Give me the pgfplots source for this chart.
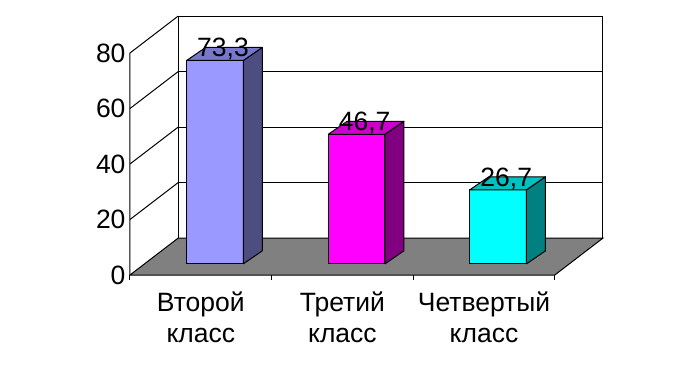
\documentclass[border=0pt]{standalone}
\usepackage{pgfplots}
\pgfplotsset{compat=1.18}
\usepackage{pgfplotstable}
\usepackage{fontspec}
\setmainfont{Liberation Sans}

\definecolor{fA}{HTML}{9999FF}\definecolor{sA}{HTML}{4D4D80}\definecolor{tA}{HTML}{7777CC}
\definecolor{fB}{HTML}{FF00FF}\definecolor{sB}{HTML}{800080}\definecolor{tB}{HTML}{CC00CC}
\definecolor{fC}{HTML}{00FFFF}\definecolor{sC}{HTML}{008080}\definecolor{tC}{HTML}{00C0C0}
\definecolor{floorc}{HTML}{808080}

\pgfplotstableread{
x val lab
0 73.3 73,3
1 46.7 46,7
2 26.7 26,7
}\data

\pgfplotstableread{
a b
0 0
1 0
1 1
0 1
0 0
}\unitsq

\pgfplotstablegetelem{0}{val}\of\data \global\let\vA\pgfplotsretval
\pgfplotstablegetelem{1}{val}\of\data \global\let\vB\pgfplotsretval
\pgfplotstablegetelem{2}{val}\of\data \global\let\vC\pgfplotsretval

\newcommand\threebar[5]{%
  \addplot[fill=#3, draw=black, line width=1bp, line join=round] table[x expr={#1+0.40+0.40*\thisrow{a}}, y expr={4+#2*\thisrow{b}}]{\unitsq};
  \addplot[fill=#4, draw=black, line width=1bp, line join=round] table[x expr={#1+0.80+0.134*\thisrow{a}}, y expr={4+4.7*\thisrow{a}+#2*\thisrow{b}}]{\unitsq};
  \addplot[fill=#5, draw=black, line width=1bp, line join=round] table[x expr={#1+0.40+0.40*\thisrow{a}+0.134*\thisrow{b}}, y expr={4+#2+4.7*\thisrow{b}}]{\unitsq};
}

\newcommand\bigfont{\fontsize{26.5bp}{31bp}\selectfont}

\begin{document}
\begin{tikzpicture}
\path[use as bounding box] (-130bp,-99bp) rectangle (562bp,275bp);
\begin{axis}[
  x=141.6bp, y=2.775bp, anchor=origin, at={(0,0)},
  xmin=0, xmax=3.34, ymin=0, ymax=93.3,
  enlargelimits=false, clip=false,
  axis line style={draw=none},
  tick pos=left,
  /pgf/number format/assume math mode=true,
  ytick={0,20,40,60,80},
  major tick length=0pt,
  xtick={0.5,1.5,2.5},
  xticklabels={{Второй\\класс},{Третий\\класс},{Четвертый\\класс}},
  extra x ticks={0,1,2,3},
  extra x tick labels={},
  extra x tick style={major tick length=5bp, tick align=outside, tick style={black, line width=1bp}},
  tick label style={font=\bigfont, text=black},
  xticklabel style={align=center, anchor=north, yshift=-13bp},
  yticklabel style={anchor=east, xshift=-1bp},
]
% back wall
\addplot[draw=black, line width=1bp, fill=white] coordinates {(0.34,13.3) (3.34,13.3) (3.34,93.3) (0.34,93.3) (0.34,13.3)};
\addplot[draw=black, line width=1bp] coordinates {(0.34,33.3) (3.34,33.3)};
\addplot[draw=black, line width=1bp] coordinates {(0.34,53.3) (3.34,53.3)};
\addplot[draw=black, line width=1bp] coordinates {(0.34,73.3) (3.34,73.3)};
% left wall
\addplot[draw=black, line width=1bp] coordinates {(0,0) (0,80) (0.34,93.3)};
\addplot[draw=black, line width=1bp] coordinates {(0,20) (0.34,33.3)};
\addplot[draw=black, line width=1bp] coordinates {(0,40) (0.34,53.3)};
\addplot[draw=black, line width=1bp] coordinates {(0,60) (0.34,73.3)};
% floor
\addplot[draw=black, line width=1bp, fill=floorc] coordinates {(0,0) (3,0) (3.34,13.3) (0.34,13.3) (0,0)};
% bars
\threebar{0}{\vA}{fA}{sA}{tA}
\threebar{1}{\vB}{fB}{sB}{tB}
\threebar{2}{\vC}{fC}{sC}{tC}
% value labels
\addplot[draw=none, mark=none, nodes near coords, point meta=explicit symbolic,
  every node near coord/.append style={anchor=base, font=\bigfont, text=black, inner sep=0pt}]
  table[x expr=\thisrow{x}+0.657, y expr=\thisrow{val}+5.3, meta=lab]{\data};
\end{axis}
\end{tikzpicture}
\end{document}
